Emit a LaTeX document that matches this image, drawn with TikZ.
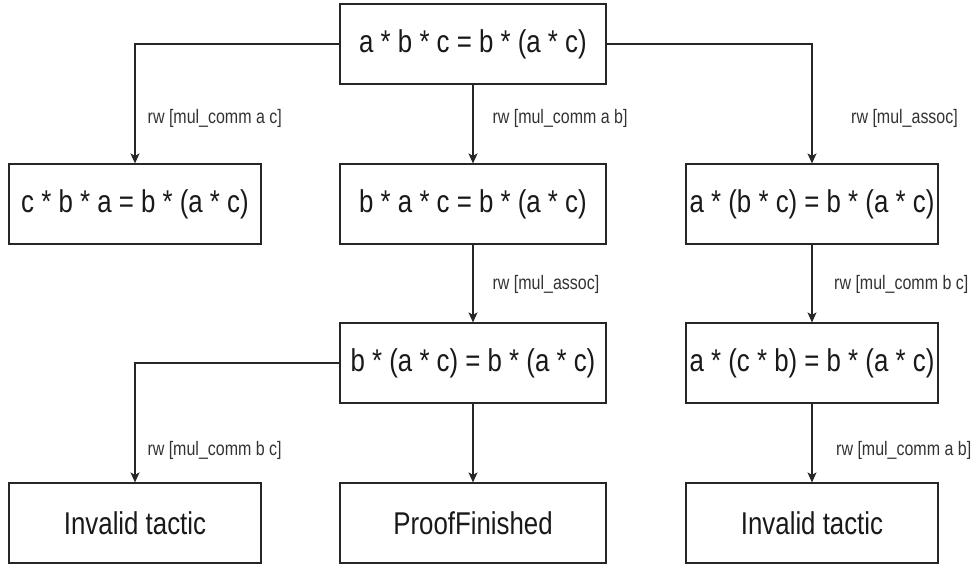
\documentclass[tikz,border=0pt]{standalone}
\usepackage{fontspec}
\setmainfont{Liberation Sans}[FakeStretch=0.82]
\usetikzlibrary{arrows.meta}
\begin{document}
\begin{tikzpicture}[x=1pt,y=1pt,
  box/.style={draw=black!85, line width=1.2pt, minimum width=#1, minimum height=80pt,
              inner sep=0pt, font=\fontsize{31.5}{38}\selectfont, text=black!90},
  box/.default=266pt,
  lbl/.style={anchor=west, inner sep=0pt, font=\fontsize{19.5}{23}\selectfont, text=black!80},
  arr/.style={draw=black!85, line width=1.2pt, -{Stealth[length=10pt,width=9pt,inset=2.5pt]}}]
\useasboundingbox (0,0) rectangle (973,566);
% row 1
\node[box] (n1) at (473,522) {a * b * c = b * (a * c)};
% row 2
\node[box=252pt] (n2L) at (135,362) {c * b * a = b * (a * c)};
\node[box] (n2M) at (473,362) {b * a * c = b * (a * c)};
\node[box=252pt] (n2R) at (812,362) {a * (b * c) = b * (a * c)};
% row 3
\node[box] (n3M) at (473,203) {b * (a * c) = b * (a * c)};
\node[box=252pt] (n3R) at (812,203) {a * (c * b) = b * (a * c)};
% row 4
\node[box=252pt] (n4L) at (135,43) {Invalid tactic};
\node[box] (n4M) at (473,43) {ProofFinished};
\node[box=252pt] (n4R) at (812,43) {Invalid tactic};
% connectors
\draw[arr] (n1.west) -| (n2L.north);
\draw[arr] (n1) -- (n2M);
\draw[arr] (n1.east) -| (n2R.north);
\draw[arr] (n2M) -- (n3M);
\draw[arr] (n2R) -- (n3R);
\draw[arr] (n3M.west) -| (n4L.north);
\draw[arr] (n3M) -- (n4M);
\draw[arr] (n3R) -- (n4R);
% labels
\node[lbl] (l1) at (147.5,448) {rw [mul\_comm a c]};
\node[lbl] (l2) at (492.3,448) {rw [mul\_comm a b]};
\node[lbl] (l3) at (851,448) {rw [mul\_assoc]};
\node[lbl] (l4) at (492.4,282) {rw [mul\_assoc]};
\node[lbl] (l5) at (834,282) {rw [mul\_comm b c]};
\node[lbl] (l6) at (147.3,116) {rw [mul\_comm b c]};
\node[lbl] (l7) at (836,116) {rw [mul\_comm a b]};
\end{tikzpicture}
\end{document}
